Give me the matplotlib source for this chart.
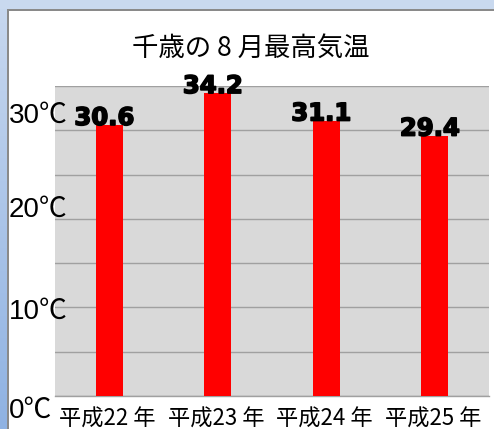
import matplotlib
matplotlib.use("Agg")
import matplotlib.pyplot as plt
import matplotlib.patheffects as pe
import numpy as np
from matplotlib.patches import Rectangle
from matplotlib.colors import LinearSegmentedColormap
from matplotlib.transforms import offset_copy

categories = ["平成22 年", "平成23 年", "平成24 年", "平成25 年"]
values = [30.6, 34.2, 31.1, 29.4]
value_labels = ["30.6", "34.2", "31.1", "29.4"]
ytick_labels = ["30℃", "20℃", "10℃", "0℃"]
title = "千歳の 8 月最高気温"

W, H = 494, 429
fig = plt.figure(figsize=(W / 100, H / 100), dpi=100)
fig.patch.set_facecolor("white")

def px(x, y):
    return x / W, 1 - y / H

# window frame: top strip, left gradient strip, gray border lines
fig.patches.append(Rectangle((0, 1 - 9 / H), 1, 9 / H, transform=fig.transFigure,
                             facecolor="#c9d9ef", edgecolor="none", zorder=0))
gax = fig.add_axes([0, 0, 7 / W, 1])
grad = np.linspace(0, 1, 256).reshape(-1, 1)
cmap = LinearSegmentedColormap.from_list("g", ["#c8d8ef", "#8fb2e2"])
gax.imshow(grad, aspect="auto", cmap=cmap, extent=[0, 1, 0, 1], origin="upper")
gax.axis("off")
fig.patches.append(Rectangle((7 / W, 0), 2 / W, 1 - 9 / H, transform=fig.transFigure,
                             facecolor="#8a8a8a", edgecolor="none", zorder=1))
fig.patches.append(Rectangle((7 / W, 1 - 11 / H), 1, 2 / H, transform=fig.transFigure,
                             facecolor="#8a8a8a", edgecolor="none", zorder=1))

# plot area
left, top, right, bottom = 55, 86, 489, 396
ax = fig.add_axes([left / W, 1 - bottom / H, (right - left) / W, (bottom - top) / H])
ax.set_facecolor("#d9d9d9")
x = np.arange(len(categories))
ax.bar(x, values, width=0.25, color="#ff0000", zorder=3)
ax.set_xlim(-0.5, len(categories) - 0.5)
ax.set_ylim(0, 35)
ax.set_yticks(np.arange(0, 36, 5))
ax.yaxis.grid(True, color="#a0a0a0", linewidth=1.0)
ax.set_axisbelow(True)
ax.tick_params(left=False, bottom=False, labelleft=False, labelbottom=False)
for s in ["left", "right", "top"]:
    ax.spines[s].set_visible(False)
ax.spines["bottom"].set_color("#a0a0a0")
ax.spines["bottom"].set_linewidth(1.0)

for xi, v, lab in zip(x, values, value_labels):
    tr = offset_copy(ax.transData, fig=fig, x=-5, y=0, units="dots")
    ax.text(xi, v, lab, transform=tr, ha="center", va="baseline",
            family="DejaVu Sans", fontweight="bold", fontsize=17.5, color="black",
            zorder=5, clip_on=False,
            path_effects=[pe.withStroke(linewidth=1.2, foreground="black")])

# category labels
for xi, c in zip(x, categories):
    tr = offset_copy(ax.transData, fig=fig, x=-2, y=-23, units="dots")
    ax.text(xi, 0, c, transform=tr, ha="center", va="center",
            family=["Noto Sans CJK JP", "DejaVu Sans"], fontsize=16, color="black",
            clip_on=False)

# y labels
ylab_pos = [115.5, 210, 312, 411]
for lab, yy in zip(ytick_labels, ylab_pos):
    fx, fy = px(9, yy)
    fig.text(fx, fy, lab, ha="left", va="center",
             family=["Liberation Sans", "Noto Sans CJK JP", "DejaVu Sans"],
             fontsize=20, color="black")

# title
tx, ty = px(251, 48)
fig.text(tx, ty, title, ha="center", va="center",
         family=["Noto Sans CJK JP", "DejaVu Sans"], fontsize=19, color="black")

fig.savefig("out.png", dpi=100)
